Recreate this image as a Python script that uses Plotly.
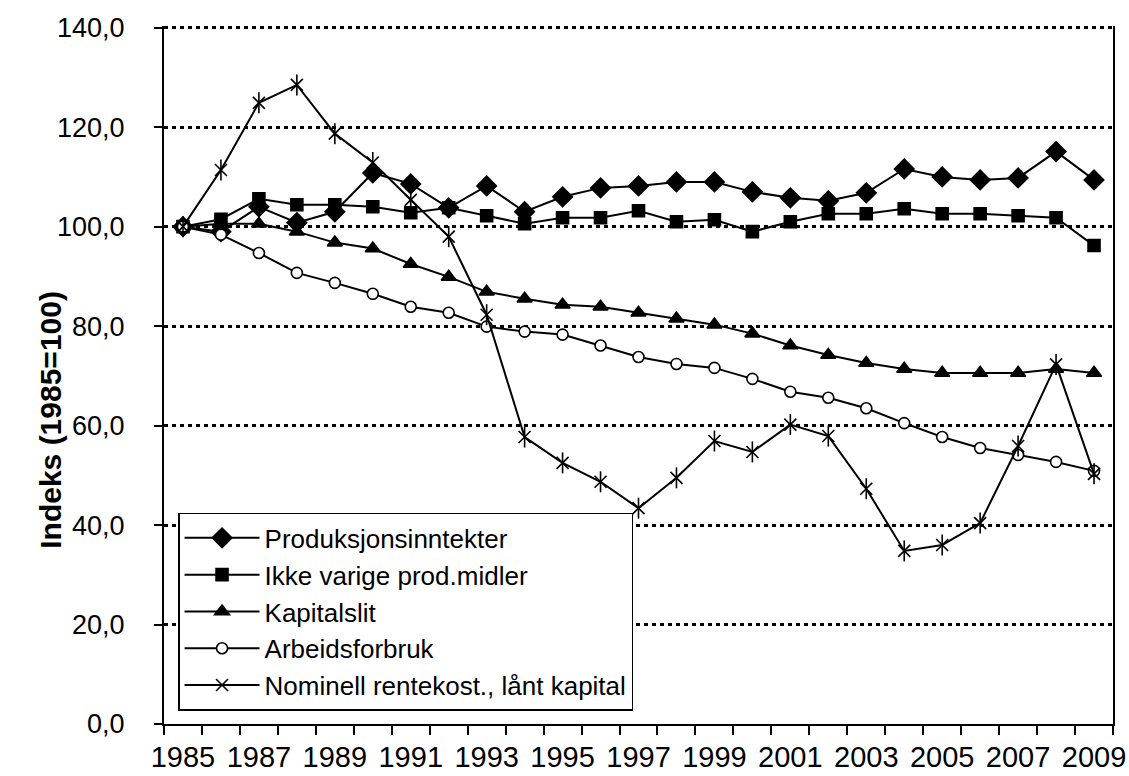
import plotly.graph_objects as go

years = list(range(1985, 2010))

produksjonsinntekter = [100.0, 99.0, 104.0, 100.8, 103.0, 110.8, 108.6, 103.8, 108.2, 103.0,
                        106.0, 107.8, 108.2, 109.0, 109.0, 107.0, 105.8, 105.2, 106.8, 111.6,
                        110.0, 109.4, 109.8, 115.1, 109.4]
ikke_varige = [100.0, 101.5, 105.6, 104.4, 104.4, 104.0, 102.8, 103.8, 102.2, 100.6,
               101.8, 101.8, 103.2, 101.0, 101.4, 99.0, 101.0, 102.6, 102.6, 103.6,
               102.6, 102.6, 102.2, 101.8, 96.2]
kapitalslit = [100.0, 100.6, 100.6, 99.0, 96.8, 95.6, 92.5, 89.9, 86.9, 85.5,
               84.3, 83.9, 82.7, 81.5, 80.3, 78.5, 76.1, 74.2, 72.6, 71.4,
               70.6, 70.6, 70.6, 71.4, 70.6]
arbeidsforbruk = [100.0, 98.4, 94.7, 90.7, 88.7, 86.5, 83.9, 82.7, 79.9, 78.9,
                  78.3, 76.1, 73.8, 72.4, 71.6, 69.4, 66.8, 65.6, 63.5, 60.5,
                  57.7, 55.5, 54.1, 52.7, 50.9]
rentekost = [100.0, 111.4, 124.9, 128.5, 118.7, 112.9, 105.4, 98.0, 82.3, 57.7,
             52.5, 48.7, 43.4, 49.5, 56.9, 54.7, 60.2, 57.9, 47.3, 34.8,
             36.0, 40.4, 55.9, 72.3, 50.3]

label_years = years[::2]
y_ticks = [0, 20, 40, 60, 80, 100, 120, 140]

FONT = "Liberation Sans, Arial, sans-serif"

fig = go.Figure()

def add_series(name, values, symbol, size, fill="black", showlegend=True, mode="lines+markers"):
    fig.add_trace(go.Scatter(
        x=years, y=values, name=name, mode=mode, showlegend=showlegend,
        legendgroup=name,
        line=dict(color="black", width=2),
        marker=dict(symbol=symbol, size=size, color=fill,
                    line=dict(color="black", width=1.6)),
    ))

add_series("Produksjonsinntekter", produksjonsinntekter, "diamond", 15)
add_series("Ikke varige prod.midler", ikke_varige, "square", 12)
add_series("Kapitalslit", kapitalslit, "triangle-up", 13)
add_series("Arbeidsforbruk", arbeidsforbruk, "circle", 11, fill="white")
add_series("Nominell rentekost., lånt kapital", rentekost, "x-thin-open", 12)
# vertical bar of the six-armed star marker
fig.add_trace(go.Scatter(
    x=years, y=rentekost, mode="markers", showlegend=False,
    legendgroup="Nominell rentekost., lånt kapital",
    marker=dict(symbol="line-ns-open", size=15, color="black",
                line=dict(color="black", width=1.6)),
    hoverinfo="skip",
))

fig.add_annotation(
    text="<b>Indeks (1985=100)</b>", textangle=-90,
    xref="paper", yref="paper", x=-0.119, y=0.436,
    xanchor="center", yanchor="middle", showarrow=False,
    font=dict(family=FONT, size=30, color="black"),
)

fig.update_layout(
    width=1129, height=776,
    margin=dict(l=164, r=16, t=26, b=52, autoexpand=False),
    paper_bgcolor="white", plot_bgcolor="white",
    separators=", ",
    font=dict(family=FONT, size=26, color="black"),
    showlegend=True,
    legend=dict(
        x=0.0148, y=0.0187, xanchor="left", yanchor="bottom",
        bgcolor="white", bordercolor="black", borderwidth=1.5,
        font=dict(family=FONT, size=26, color="black"),
        tracegroupgap=0, itemwidth=75,
    ),
)

fig.update_xaxes(
    range=[1984.5, 2009.5], automargin=False,
    tickmode="array", tickvals=label_years, ticktext=[str(y) for y in label_years],
    ticks="", ticklen=0, ticklabelstandoff=6,
    showgrid=False, zeroline=False,
    showline=True, linecolor="black", linewidth=2,
    tickfont=dict(family=FONT, size=29, color="black"),
    minor=dict(ticks="outside", ticklen=9, tickwidth=1.5, tickcolor="black",
               tick0=1984.5, dtick=1, showgrid=False),
)

fig.update_yaxes(
    range=[0, 140.35], tickmode="array", tickvals=y_ticks, automargin=False,
    tickformat=".1f",
    ticks="outside", ticklen=8, tickwidth=1.5, tickcolor="black",
    ticklabelstandoff=24,
    showline=True, linecolor="black", linewidth=2, mirror=True,
    showgrid=True, gridcolor="black", gridwidth=2.5, griddash="4px,4px",
    zeroline=False,
    tickfont=dict(family=FONT, size=27, color="black"),
)

fig.write_html("out.html", config={"displayModeBar": False},
               post_script="document.body.style.margin='0';")
